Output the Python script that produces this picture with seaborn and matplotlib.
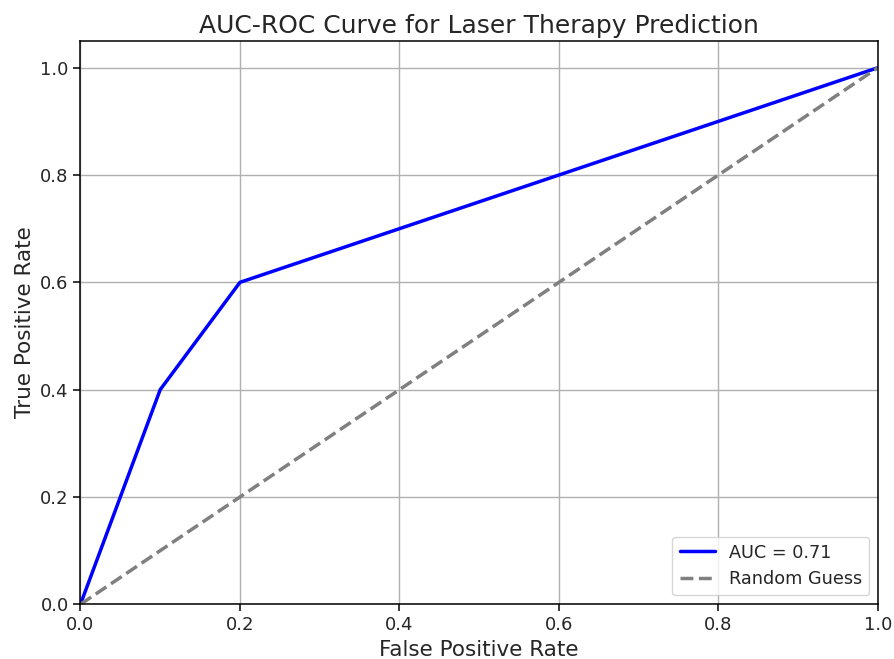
import matplotlib
matplotlib.use("Agg")
import matplotlib.pyplot as plt
import pandas as pd
import seaborn as sns

# Puntos de la curva ROC
fpr = [0.0, 0.1, 0.2, 1.0]
tpr = [0.0, 0.4, 0.6, 1.0]
auc_label = "AUC = 0.71"

# Diagonal de referencia
diag_x = [0.0, 1.0]
diag_y = [0.0, 1.0]

roc = pd.DataFrame({"fpr": fpr, "tpr": tpr})
diag = pd.DataFrame({"x": diag_x, "y": diag_y})

sns.set_style("ticks")
plt.rcParams['font.family'] = ['DejaVu Sans']

fig, ax = plt.subplots(figsize=(8.94, 6.59), dpi=100)
sns.lineplot(data=roc, x="fpr", y="tpr", color="blue", linewidth=2.5,
             label=auc_label, ax=ax, sort=False)
sns.lineplot(data=diag, x="x", y="y", color="gray", linewidth=2.5,
             linestyle=(0, (3.7, 1.6)), label="Random Guess", ax=ax)

ax.set_xlim(0, 1)
ax.set_ylim(0, 1.05)
ax.set_xticks([0, 0.2, 0.4, 0.6, 0.8, 1.0])
ax.set_yticks([0, 0.2, 0.4, 0.6, 0.8, 1.0])
ax.grid(True, color="#b0b0b0", linewidth=1.0)
for s in ax.spines.values():
    s.set_color("black")
    s.set_linewidth(1.1)
ax.tick_params(labelsize=13, length=5, width=1.1, color="black")

ax.set_title("AUC-ROC Curve for Laser Therapy Prediction", fontsize=18)
ax.set_xlabel("False Positive Rate", fontsize=15.5)
ax.set_ylabel("True Positive Rate", fontsize=15.5)
ax.legend(loc="lower right", fontsize=12.7)

plt.subplots_adjust(left=0.09, right=0.982, top=0.938, bottom=0.083)
plt.savefig("out.png", dpi=100)
